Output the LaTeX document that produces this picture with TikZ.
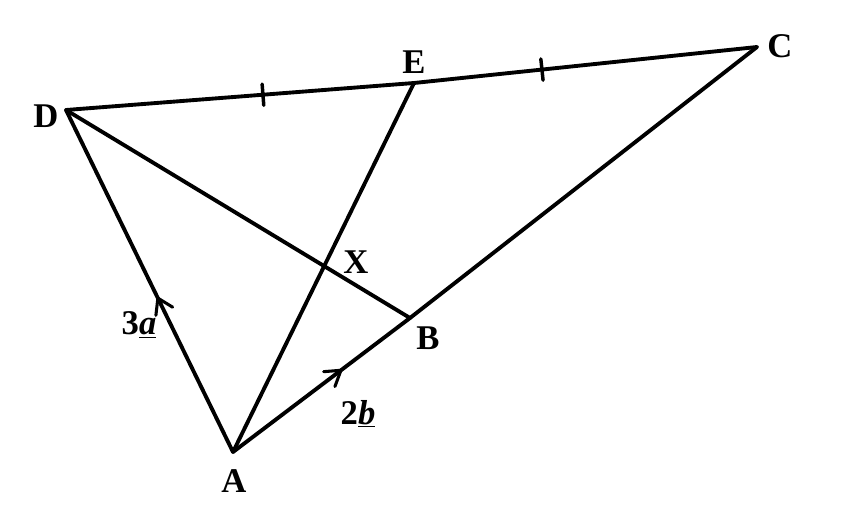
\documentclass[tikz,border=0pt]{standalone}
\usepackage{fontspec}
\setmainfont{Liberation Serif}
\usetikzlibrary{decorations.markings,intersections}

\begin{document}
\begin{tikzpicture}[x=0.75pt,y=-0.75pt]
\tikzstyle{every node}+=[inner sep=0pt,font=\fontsize{26}{26}\selectfont\bfseries]
\tikzstyle{side}=[line width=2.9pt,line cap=round]
\tikzstyle{vecarrow}=[postaction={decorate,decoration={markings,
  mark=at position #1 with {\draw[line width=2.3pt] (-11pt,7pt) -- (0,0) -- (-11pt,-7pt);}}}]
\tikzstyle{equaltick}=[postaction={decorate,decoration={markings,
  mark=at position #1 with {\draw[line width=2.6pt] (0,-8pt) -- (0,8pt);}}}]
\useasboundingbox (0,0) rectangle (861,504);
\coordinate (A) at (233,452);
\coordinate (B) at (410,318);
\coordinate (C) at (757,47);
\coordinate (D) at (66,110);
\coordinate (E) at (414,83);
% triangle sides
\draw [side,vecarrow=0.45] (A) -- (D);
\draw [side,vecarrow=0.61] (A) -- (B);
\draw [side] (B) -- (C);
\draw [side,equaltick=0.566] (D) -- (E);
\draw [side,equaltick=0.373] (E) -- (C);
\draw [side,name path=ae] (A) -- (E);
\draw [side,name path=db] (D) -- (B);
\path [name intersections={of=ae and db,by=X}];
% labels
\node (labD) at (46,116) {D};
\node (labE) at (414,62) {E};
\node (labC) at (780,46) {C};
\node (labA) at (234,481) {A};
\node (labB) at (428,338) {B};
\node (labX) at (356,262) {X};
\node (laba) at (139,325) {3\underline{\textit{a}}};
\node (labb) at (358,414) {2\underline{\textit{b}}};
\end{tikzpicture}
\end{document}
